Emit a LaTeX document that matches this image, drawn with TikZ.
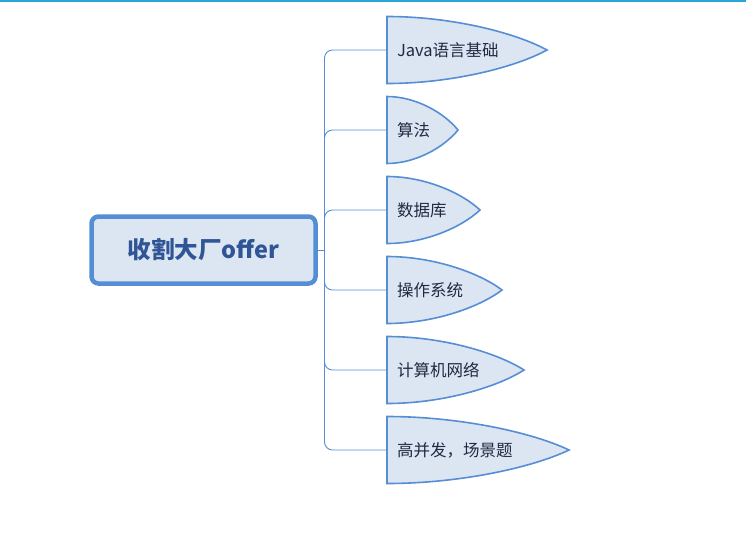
\documentclass[tikz,border=0pt]{standalone}
\usepackage{fontspec}
\setmainfont{Noto Sans CJK SC}
\usepackage{tikz}
\usetikzlibrary{positioning, calc, backgrounds}

\definecolor{boxfill}{HTML}{DCE6F2}
\definecolor{boxline}{HTML}{558ED5}
\definecolor{roottext}{HTML}{2F5597}
\definecolor{leaftext}{HTML}{1F2A44}
\definecolor{topcol}{HTML}{2AA6D6}

\tikzset{
  root/.style={draw=boxline, fill=boxfill, line width=4.5pt, rounded corners=7pt,
    minimum width=224pt, minimum height=67pt, outer sep=0pt,
    font=\fontsize{23.5}{28}\selectfont\bfseries, text=roottext},
  leaf/.style={text width=#1, inner xsep=10pt, inner ysep=0pt, minimum height=67pt,
    outer sep=0pt, align=left, font=\fontsize{16.5}{20}\selectfont, text=leaftext},
  leafline/.style={draw=boxline, fill=boxfill, line width=1.6pt},
  branch/.style={draw=boxline, line width=0.9pt, rounded corners=8pt},
}

\begin{document}
\begin{tikzpicture}[x=1pt, y=-1pt]
    \useasboundingbox (0,0) rectangle (746,536);
    \draw[topcol, line width=1.5pt] (0,0.75) -- (746,0.75);

    \node[root] (root) at (203.5,250) {收割大厂offer};
    \node[leaf=140pt, anchor=west] (java) at (387,50) {Java语言基础};
    \node[leaf=51pt, below=13pt of java.south west, anchor=north west] (algo) {算法};
    \node[leaf=73pt, below=13pt of algo.south west, anchor=north west] (db) {数据库};
    \node[leaf=95pt, below=13pt of db.south west, anchor=north west] (os) {操作系统};
    \node[leaf=117pt, below=13pt of os.south west, anchor=north west] (net) {计算机网络};
    \node[leaf=162pt, below=13pt of net.south west, anchor=north west] (scene) {高并发，场景题};
    \coordinate (spine) at ($(root.east)+(9,0)$);

    % Leaf outlines
    \begin{pgfonlayer}{background}
      \foreach \n in {java, algo, db, os, net, scene}
        \draw[leafline] (\n.north west)
          .. controls ($(\n.north west)!0.4!(\n.north east)$)
          and ($(\n.north west)!0.8!(\n.north east)+(0,16)$) .. (\n.east)
          .. controls ($(\n.south west)!0.8!(\n.south east)+(0,-16)$)
          and ($(\n.south west)!0.4!(\n.south east)$) .. (\n.south west)
          -- cycle;
    \end{pgfonlayer}

    % Connect the nodes
    \draw[branch] (root.east) -- (spine);
    \foreach \n in {java, algo, db, os, net, scene}
      \draw[branch] (spine) |- (\n.west);
\end{tikzpicture}
\end{document}
